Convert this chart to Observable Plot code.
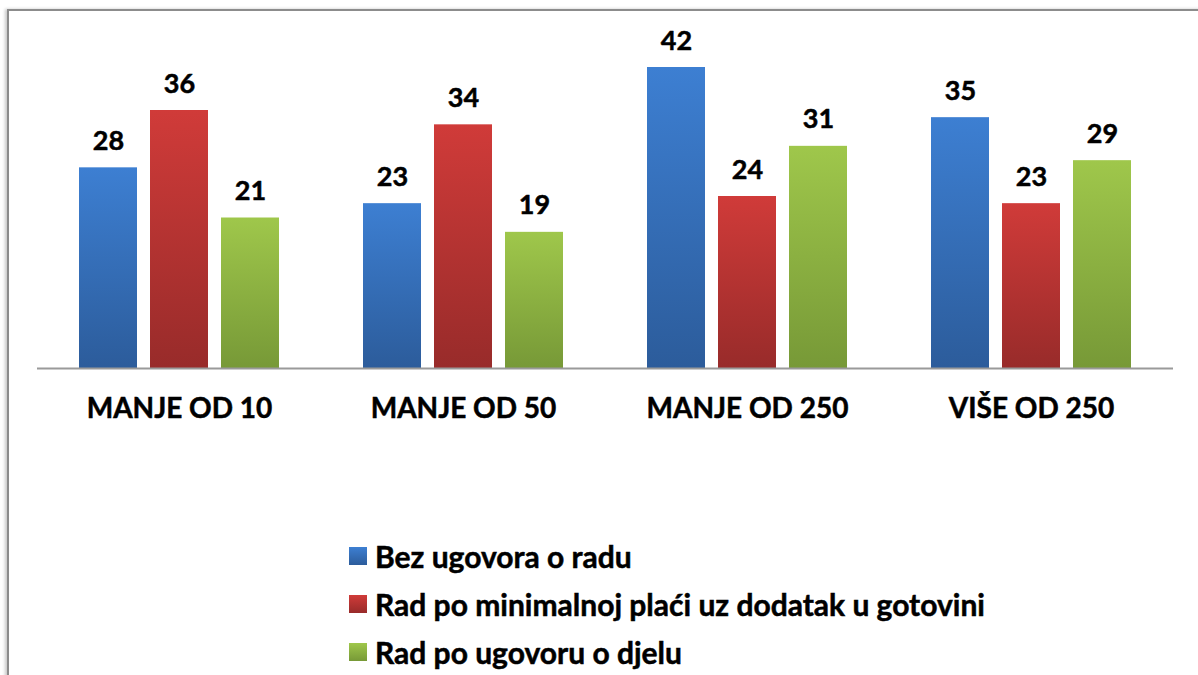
<!DOCTYPE html>
<html>
<head>
<meta charset="utf-8">
<script src="https://cdn.jsdelivr.net/npm/d3@7"></script>
<script src="https://cdn.jsdelivr.net/npm/@observablehq/plot@0.6"></script>
<style>
  html, body { margin: 0; padding: 0; background: #fff; }
  #wrap { position: relative; width: 1198px; height: 675px; overflow: hidden; background: #fff; font-family: Lato, "Open Sans", sans-serif; }
  #frame { position: absolute; left: 7px; top: 9px; width: 1300px; height: 800px; border-top: 2px solid #8c8c8c; border-left: 2px solid #8c8c8c; box-shadow: -2px 0 3px #c8c8c8; background: #fff; }
  #chart { position: absolute; left: 0; top: 0; }
  #legend { position: absolute; left: 349px; top: 532px; }
  .row { display: flex; align-items: center; height: 48px; font-weight: 700; font-size: 30px; color: #000; -webkit-text-stroke: 0.5px #000; }
  .sw { width: 18px; height: 18px; margin-right: 8px; }
</style>
</head>
<body>
<div id="wrap">
  <div id="frame"></div>
  <div id="chart"></div>
  <div id="legend"></div>
</div>
<script>
const categories = ["MANJE OD 10", "MANJE OD 50", "MANJE OD 250", "VIŠE OD 250"];
const series = ["Bez ugovora o radu", "Rad po minimalnoj plaći uz dodatak u gotovini", "Rad po ugovoru o djelu"];
const bezUgovora = [28, 23, 42, 35];
const minimalnaPlaca = [36, 34, 24, 23];
const ugovorODjelu = [21, 19, 31, 29];

const gradTop = ["#3d7fd2", "#d03b39", "#9fc74b"];
const gradBottom = ["#2c5c9b", "#982b2a", "#779937"];
const gradIds = ["gBlue", "gRed", "gGreen"];

const seriesValues = [bezUgovora, minimalnaPlaca, ugovorODjelu];
const data = [];
categories.forEach((c, i) => {
  series.forEach((s, j) => data.push({cat: c, series: s, value: seriesValues[j][i]}));
});

const plot = Plot.plot({
  width: 1198,
  height: 450,
  marginLeft: 37,
  marginRight: 25,
  marginTop: 67,
  marginBottom: 82,
  style: {fontFamily: "Lato, 'Open Sans', sans-serif", background: "transparent", overflow: "visible"},
  fx: {domain: categories, padding: 0, axis: "bottom", label: null, tickSize: 0, tickPadding: 30},
  x: {domain: series, axis: null, paddingInner: 0.183, paddingOuter: 0.59},
  y: {domain: [0, 42], axis: null},
  color: {domain: series, range: gradIds.map(id => `url(#${id})`)},
  marks: [
    Plot.barY(data, {fx: "cat", x: "series", y: "value", fill: "series", style: "filter:url(#shadow)"}),
    Plot.ruleY([0], {stroke: "#9a9a9a", strokeWidth: 2}),
    Plot.text(data, {fx: "cat", x: "series", y: "value", text: d => String(d.value), lineAnchor: "bottom", dy: -18, fontSize: 27, fontWeight: 700, fill: "#000", stroke: "#000", strokeWidth: 0.5})
  ]
});

const svg = d3.select(plot);
const defs = svg.insert("defs", ":first-child");
gradIds.forEach((id, i) => {
  const g = defs.append("linearGradient").attr("id", id).attr("x1", 0).attr("y1", 0).attr("x2", 0).attr("y2", 1);
  g.append("stop").attr("offset", "0%").attr("stop-color", gradTop[i]);
  g.append("stop").attr("offset", "100%").attr("stop-color", gradBottom[i]);
});
const f = defs.append("filter").attr("id", "shadow").attr("x", "-20%").attr("y", "-5%").attr("width", "150%").attr("height", "110%");
f.append("feDropShadow").attr("dx", 3).attr("dy", 0).attr("stdDeviation", 2).attr("flood-color", "#000").attr("flood-opacity", 0.18);

svg.selectAll("g[aria-label='fx-axis tick label']")
  .attr("font-size", 28).attr("font-weight", 700).attr("fill", "#000").attr("stroke", "#000").attr("stroke-width", 0.5);

document.getElementById("chart").appendChild(plot);

const legend = d3.select("#legend");
series.forEach((s, i) => {
  const r = legend.append("div").attr("class", "row");
  r.append("div").attr("class", "sw").style("background", `linear-gradient(${gradTop[i]}, ${gradBottom[i]})`);
  r.append("span").text(s);
});
</script>
</body>
</html>
